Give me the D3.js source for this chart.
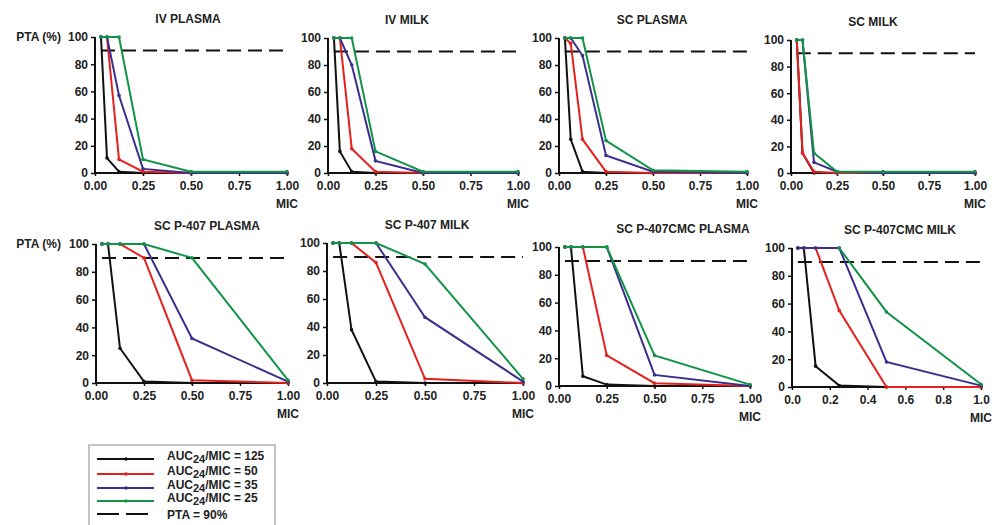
<!DOCTYPE html>
<html>
<head>
<meta charset="utf-8">
<script src="https://cdn.jsdelivr.net/npm/d3@7"></script>
<style>
  body { margin: 0; background: #fff; }
  text { font-family: "Liberation Sans", Arial, sans-serif; font-weight: bold; fill: #222; }
</style>
</head>
<body>
<div class="canvas"></div>
<script>
// MIC dilutions on the x axis
const mic = [0.03125, 0.0625, 0.125, 0.25, 0.5, 1];

// series order: AUC24/MIC = 125, 50, 35, 25
const seriesNames = ['125', '50', '35', '25'];
const seriesColors = ['#111111', '#e3211f', '#3b2f8c', '#119447'];

const titles = ['IV PLASMA', 'IV MILK', 'SC PLASMA', 'SC  MILK',
  'SC P-407 PLASMA', 'SC P-407 MILK', 'SC P-407CMC PLASMA', 'SC P-407CMC MILK'];

const ivPlasma = [
  [100, 11, 1, 0, 0, 0],
  [100, 100, 10, 1, 0, 0],
  [100, 100, 57, 3, 0, 0],
  [100, 100, 100, 10, 1, 1]
];
const ivMilk = [
  [100, 16, 1, 0, 0, 0],
  [100, 100, 18, 1, 0, 0],
  [100, 100, 80, 9, 0, 0],
  [100, 100, 100, 16, 1, 1]
];
const scPlasma = [
  [100, 25, 1, 0, 0, 0],
  [100, 96, 25, 1, 0, 0],
  [100, 100, 87, 13, 1, 0],
  [100, 100, 100, 24, 2, 1]
];
const scMilk = [
  [100, 15, 0, 0, 0, 0],
  [100, 15, 1, 0, 0, 0],
  [100, 100, 8, 1, 0, 0],
  [100, 100, 15, 1, 1, 1]
];
const p407Plasma = [
  [100, 100, 25, 1, 0, 0],
  [100, 100, 100, 90, 2, 0],
  [100, 100, 100, 100, 32, 1],
  [100, 100, 100, 100, 90, 2]
];
const p407Milk = [
  [100, 100, 38, 1, 0, 0],
  [100, 100, 100, 86, 3, 0],
  [100, 100, 100, 100, 47, 1],
  [100, 100, 100, 100, 85, 3]
];
const cmcPlasma = [
  [100, 100, 7, 1, 0, 0],
  [100, 100, 100, 22, 2, 0],
  [100, 100, 100, 100, 8, 0],
  [100, 100, 100, 100, 22, 1]
];
const cmcMilk = [
  [100, 100, 15, 1, 0, 0],
  [100, 100, 100, 55, 0, 0],
  [100, 100, 100, 100, 18, 1],
  [null, null, null, 100, 54, 2]
];

const panelData = [ivPlasma, ivMilk, scPlasma, scMilk, p407Plasma, p407Milk, cmcPlasma, cmcMilk];
const ptaTarget = 90;

const xTicksQuarter = [0, 0.25, 0.5, 0.75, 1];
const xTicksFifth = [0, 0.2, 0.4, 0.6, 0.8, 1];
const yTicks = [0, 20, 40, 60, 80, 100];

// layout: [left, right, top(100%), bottom(0%), title x]
const layout = [
  [95, 287, 37, 173, 188],
  [328, 518, 38, 173, 407],
  [559, 747, 38, 173, 652],
  [791, 975, 40, 173, 873],
  [96, 288, 244, 383, 207],
  [327, 523, 243, 383, 427],
  [559, 750, 247, 386, 683],
  [792, 981, 248, 387, 900]
];

const svg = d3.select('.canvas')
  .append('svg')
  .attr('width', 996)
  .attr('height', 525);

panelData.forEach((data, i) => {
  const [l, r, t, b, tx] = layout[i];
  const x = d3.scaleLinear().domain([0, 1]).range([l, r]);
  const y = d3.scaleLinear().domain([0, 100]).range([b, t]);
  const g = svg.append('g');
  const quarter = i !== 7;

  // y axis
  const yAxis = g.append('g')
    .attr('transform', `translate(${l},0)`)
    .call(d3.axisLeft(y).tickValues(yTicks).tickSize(4).tickPadding(3));
  // x axis
  const xAxis = g.append('g')
    .attr('transform', `translate(0,${b})`)
    .call(d3.axisBottom(x)
      .tickValues(quarter ? xTicksQuarter : xTicksFifth)
      .tickFormat(d3.format(quarter ? '.2f' : '.1f'))
      .tickSize(3).tickPadding(5));
  [yAxis, xAxis].forEach(ax => {
    ax.select('.domain').attr('stroke', '#111').attr('stroke-width', 2);
    ax.selectAll('.tick line').attr('stroke', '#111').attr('stroke-width', 1.5);
    ax.selectAll('.tick text').style('font-size', '12px').attr('fill', '#222')
      .style('font-family', '"Liberation Sans", Arial, sans-serif').style('font-weight', 'bold');
  });
  yAxis.select('.domain').attr('d', `M0,${b}V${t}`);
  xAxis.select('.domain').attr('d', `M${l},0H${r}`);

  g.append('text')
    .attr('x', tx).attr('y', t - 14)
    .attr('text-anchor', 'middle')
    .style('font-size', '12px')
    .text(titles[i]);

  g.append('text')
    .attr('x', r).attr('y', b + 35)
    .attr('text-anchor', 'middle')
    .style('font-size', '12px')
    .text('MIC');

  if (i === 0 || i === 4) {
    g.append('text')
      .attr('x', 61).attr('y', t + 4)
      .attr('text-anchor', 'end')
      .style('font-size', '12px')
      .text('PTA (%)');
  }

  // PTA = 90% reference line
  g.append('line')
    .attr('x1', x(mic[0])).attr('x2', x(1))
    .attr('y1', y(ptaTarget)).attr('y2', y(ptaTarget))
    .attr('stroke', '#111').attr('stroke-width', 2)
    .attr('stroke-dasharray', '14,7');

  const line = d3.line()
    .defined(d => d[1] !== null)
    .x(d => x(d[0]))
    .y(d => y(d[1]));

  data.forEach((vals, s) => {
    const pts = mic.map((m, k) => [m, vals[k]]);
    g.append('path')
      .datum(pts)
      .attr('fill', 'none')
      .attr('stroke', seriesColors[s])
      .attr('stroke-width', 2)
      .attr('d', line);
    g.selectAll(null)
      .data(pts.filter(d => d[1] !== null))
      .enter().append('circle')
      .attr('cx', d => x(d[0]))
      .attr('cy', d => y(d[1]))
      .attr('r', 1.8)
      .attr('fill', seriesColors[s]);
  });
});

// legend
const legend = svg.append('g');
legend.append('rect')
  .attr('x', 89).attr('y', 445)
  .attr('width', 186).attr('height', 90)
  .attr('fill', '#fff').attr('stroke', '#888').attr('stroke-width', 1);

const rowY = [459, 474, 488, 501, 514];
seriesNames.forEach((n, s) => {
  legend.append('line')
    .attr('x1', 97).attr('x2', 154)
    .attr('y1', rowY[s]).attr('y2', rowY[s])
    .attr('stroke', seriesColors[s]).attr('stroke-width', 2);
  legend.append('circle')
    .attr('cx', 126).attr('cy', rowY[s]).attr('r', 1.8)
    .attr('fill', seriesColors[s]);
  const t = legend.append('text')
    .attr('x', 167).attr('y', rowY[s] + 1)
    .style('font-size', '12px');
  t.append('tspan').text('AUC');
  t.append('tspan').attr('dy', 3).style('font-size', '11px').text('24');
  t.append('tspan').attr('dy', -3).text('/MIC = ' + n);
});
legend.append('line')
  .attr('x1', 97).attr('x2', 150)
  .attr('y1', rowY[4]).attr('y2', rowY[4])
  .attr('stroke', '#111').attr('stroke-width', 2)
  .attr('stroke-dasharray', '22,7');
legend.append('text')
  .attr('x', 167).attr('y', rowY[4] + 5)
  .style('font-size', '12px')
  .text('PTA = 90%');
</script>
</body>
</html>
